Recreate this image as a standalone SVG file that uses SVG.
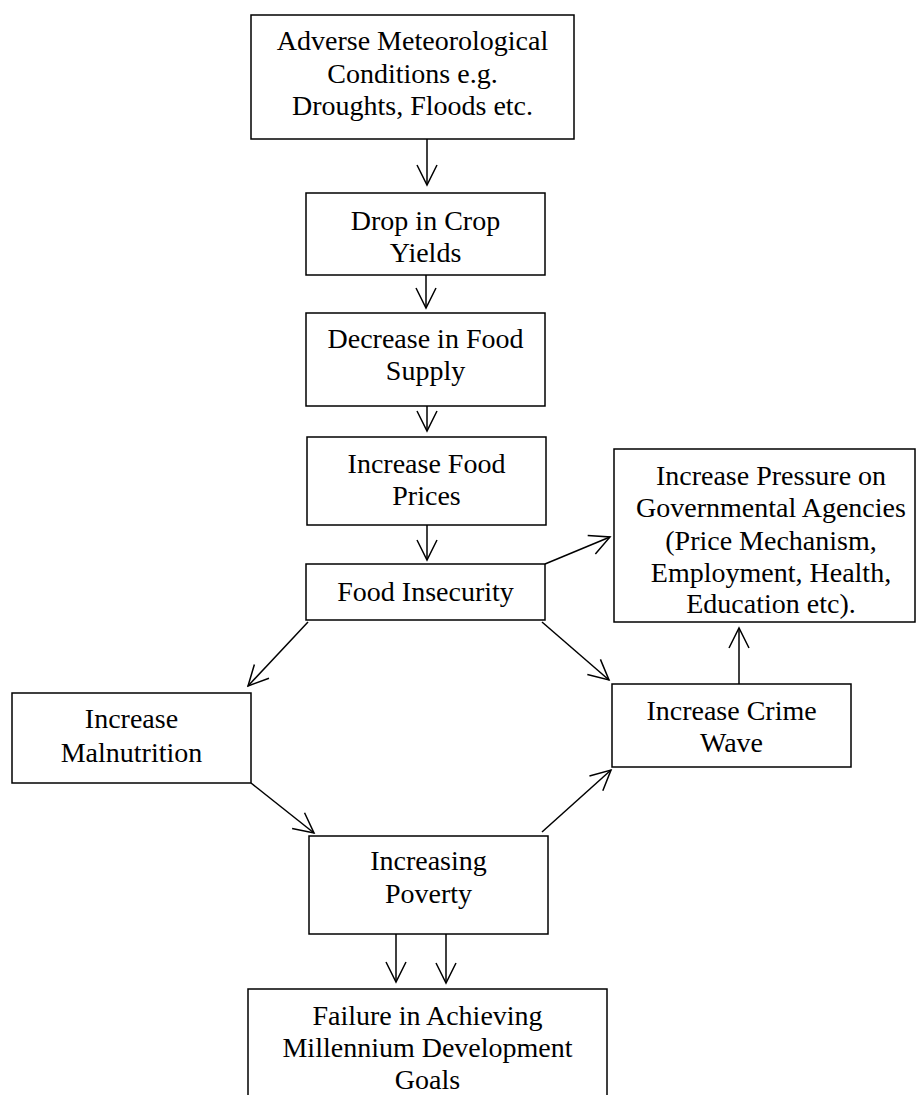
<svg xmlns="http://www.w3.org/2000/svg" width="916" height="1095" viewBox="0 0 916 1095">
<style>
.box{fill:#fff;stroke:#000;stroke-width:1.5}
.t{font-family:"Liberation Serif","Times New Roman",serif;font-size:28px;fill:#000;text-anchor:middle}
.c{fill:none;stroke:#000;stroke-width:1.5}
</style>
<defs>
<marker id="ah" markerUnits="userSpaceOnUse" viewBox="-22 -12 24 24" refX="0" refY="0" markerWidth="24" markerHeight="24" orient="auto">
<path d="M-20,-10 L0,0 L-20,10" fill="none" stroke="#000" stroke-width="1.5"/>
</marker>
</defs>
<rect width="916" height="1095" fill="#fff"/>
<g id="connectors">
<line class="c" x1="427" y1="139" x2="427" y2="185" marker-end="url(#ah)"/>
<line class="c" x1="426" y1="275" x2="426" y2="308" marker-end="url(#ah)"/>
<line class="c" x1="427" y1="406" x2="427" y2="431" marker-end="url(#ah)"/>
<line class="c" x1="427" y1="525" x2="427" y2="560" marker-end="url(#ah)"/>
<line class="c" x1="545" y1="564" x2="610" y2="537" marker-end="url(#ah)"/>
<line class="c" x1="308" y1="622" x2="248" y2="686" marker-end="url(#ah)"/>
<line class="c" x1="542" y1="622" x2="609" y2="680" marker-end="url(#ah)"/>
<line class="c" x1="739" y1="684" x2="739" y2="628" marker-end="url(#ah)"/>
<line class="c" x1="251" y1="783" x2="314" y2="833" marker-end="url(#ah)"/>
<line class="c" x1="542" y1="832" x2="611" y2="770" marker-end="url(#ah)"/>
<line class="c" x1="396" y1="934" x2="396" y2="982" marker-end="url(#ah)"/>
<line class="c" x1="446" y1="934" x2="446" y2="983" marker-end="url(#ah)"/>
</g>
<g id="n1"><rect class="box" x="251" y="15" width="323" height="124"/>
<text class="t" x="412.5" y="50">Adverse Meteorological</text>
<text class="t" x="412.5" y="83">Conditions e.g.</text>
<text class="t" x="412.5" y="115">Droughts, Floods etc.</text></g>
<g id="n2"><rect class="box" x="306" y="193" width="239" height="82"/>
<text class="t" x="425.5" y="230">Drop in Crop</text>
<text class="t" x="425.5" y="262">Yields</text></g>
<g id="n3"><rect class="box" x="306" y="313" width="239" height="93"/>
<text class="t" x="425.5" y="348">Decrease in Food</text>
<text class="t" x="425.5" y="380">Supply</text></g>
<g id="n4"><rect class="box" x="307" y="437" width="239" height="88"/>
<text class="t" x="426.5" y="473">Increase Food</text>
<text class="t" x="426.5" y="505">Prices</text></g>
<g id="n5"><rect class="box" x="306" y="564" width="239" height="56"/>
<text class="t" x="425.5" y="601">Food Insecurity</text></g>
<g id="n6"><rect class="box" x="614" y="449" width="301" height="173"/>
<text class="t" x="771" y="485">Increase Pressure on</text>
<text class="t" x="771" y="517">Governmental Agencies</text>
<text class="t" x="771" y="550">(Price Mechanism,</text>
<text class="t" x="771" y="582">Employment, Health,</text>
<text class="t" x="771" y="613">Education etc).</text></g>
<g id="n7"><rect class="box" x="612" y="684" width="239" height="83"/>
<text class="t" x="731.5" y="720">Increase Crime</text>
<text class="t" x="731.5" y="752">Wave</text></g>
<g id="n8"><rect class="box" x="12" y="693" width="239" height="90"/>
<text class="t" x="131.5" y="728">Increase</text>
<text class="t" x="131.5" y="762">Malnutrition</text></g>
<g id="n9"><rect class="box" x="309" y="836" width="239" height="98"/>
<text class="t" x="428.5" y="870">Increasing</text>
<text class="t" x="428.5" y="903">Poverty</text></g>
<g id="n10"><rect class="box" x="248" y="989" width="359" height="120"/>
<text class="t" x="427.5" y="1025">Failure in Achieving</text>
<text class="t" x="427.5" y="1057">Millennium Development</text>
<text class="t" x="427.5" y="1089">Goals</text></g>
</svg>
